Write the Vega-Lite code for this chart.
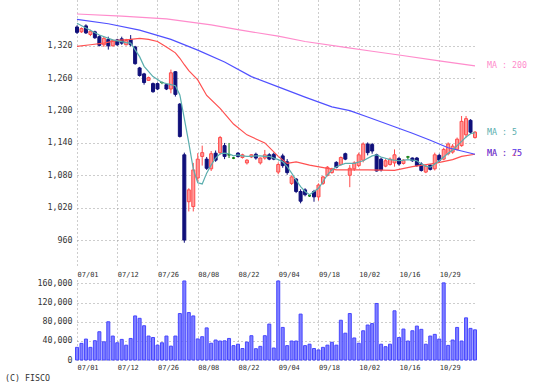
{
  "$schema": "https://vega.github.io/schema/vega-lite/v6.json",
  "padding": 0,
  "background": "white",
  "spacing": 3,
  "title": {"text": "(C) FISCO", "orient": "bottom", "anchor": "start", "frame": "bounds", "dx": 5, "offset": 4, "baseline": "top", "font": "DejaVu Sans Mono", "fontSize": 8.3, "fontWeight": "normal", "color": "#333333"},
  "config": {
    "view": {"stroke": null},
    "font": "DejaVu Sans Mono",
    "axis": {"labelFont": "DejaVu Sans Mono", "labelFontSize": 8.3, "labelColor": "#333333", "ticks": false, "domain": false, "gridColor": "#9a9a9a", "gridDash": [1, 3], "gridWidth": 1, "title": null},
    "axisX": {"labelAngle": 0}
  },
  "datasets": {
    "px": [
      {"d":"07/01","o":1355,"h":1358,"l":1342,"c":1345,"v":26400},
      {"d":"07/02","o":1346,"h":1354,"l":1344,"c":1352,"v":34700},
      {"d":"07/03","o":1357,"h":1360,"l":1342,"c":1344,"v":43700},
      {"d":"07/04","o":1341,"h":1350,"l":1338,"c":1347,"v":26400},
      {"d":"07/05","o":1346,"h":1348,"l":1333,"c":1335,"v":40300},
      {"d":"07/08","o":1337,"h":1340,"l":1319,"c":1321,"v":59000},
      {"d":"07/09","o":1322,"h":1337,"l":1318,"c":1334,"v":38000},
      {"d":"07/10","o":1332,"h":1337,"l":1313,"c":1320,"v":79800},
      {"d":"07/11","o":1320,"h":1332,"l":1319,"c":1330,"v":50000},
      {"d":"07/12","o":1331,"h":1333,"l":1320,"c":1322,"v":36000},
      {"d":"07/16","o":1333,"h":1337,"l":1322,"c":1325,"v":43000},
      {"d":"07/17","o":1322,"h":1333,"l":1321,"c":1330,"v":31000},
      {"d":"07/18","o":1332,"h":1340,"l":1319,"c":1322,"v":45000},
      {"d":"07/19","o":1318,"h":1320,"l":1285,"c":1287,"v":92000},
      {"d":"07/22","o":1279,"h":1281,"l":1263,"c":1265,"v":87000},
      {"d":"07/23","o":1268,"h":1270,"l":1248,"c":1252,"v":71500},
      {"d":"07/24","o":1256,"h":1263,"l":1255,"c":1261,"v":50000},
      {"d":"07/25","o":1250,"h":1252,"l":1233,"c":1235,"v":47000},
      {"d":"07/26","o":1250,"h":1252,"l":1238,"c":1240,"v":31000},
      {"d":"07/29","o":1252,"h":1254,"l":1249,"c":1252,"v":36000},
      {"d":"07/30","o":1248,"h":1249,"l":1238,"c":1240,"v":50000},
      {"d":"07/31","o":1240,"h":1276,"l":1232,"c":1270,"v":29000},
      {"d":"08/01","o":1272,"h":1273,"l":1226,"c":1230,"v":50000},
      {"d":"08/02","o":1212,"h":1214,"l":1150,"c":1152,"v":97000},
      {"d":"08/05","o":1118,"h":1122,"l":955,"c":960,"v":165000},
      {"d":"08/06","o":1031,"h":1056,"l":1013,"c":1053,"v":99000},
      {"d":"08/07","o":1022,"h":1103,"l":1013,"c":1090,"v":92000},
      {"d":"08/08","o":1075,"h":1121,"l":1068,"c":1110,"v":44000},
      {"d":"08/09","o":1115,"h":1135,"l":1098,"c":1122,"v":48600},
      {"d":"08/13","o":1110,"h":1114,"l":1090,"c":1093,"v":67000},
      {"d":"08/14","o":1092,"h":1125,"l":1088,"c":1120,"v":35000},
      {"d":"08/15","o":1121,"h":1126,"l":1105,"c":1108,"v":41700},
      {"d":"08/16","o":1122,"h":1153,"l":1118,"c":1150,"v":39600},
      {"d":"08/19","o":1135,"h":1140,"l":1110,"c":1115,"v":40000},
      {"d":"08/20","o":1118,"h":1140,"l":1112,"c":1118,"v":45000},
      {"d":"08/21","o":1112,"h":1114,"l":1110,"c":1112,"v":30000},
      {"d":"08/22","o":1121,"h":1123,"l":1113,"c":1115,"v":33000},
      {"d":"08/23","o":1113,"h":1120,"l":1111,"c":1118,"v":24000},
      {"d":"08/26","o":1103,"h":1110,"l":1100,"c":1108,"v":37500},
      {"d":"08/27","o":1114,"h":1119,"l":1112,"c":1118,"v":50700},
      {"d":"08/28","o":1119,"h":1122,"l":1109,"c":1112,"v":23600},
      {"d":"08/29","o":1103,"h":1113,"l":1100,"c":1112,"v":28500},
      {"d":"08/30","o":1112,"h":1127,"l":1109,"c":1118,"v":50700},
      {"d":"09/02","o":1118,"h":1121,"l":1108,"c":1110,"v":75000},
      {"d":"09/03","o":1119,"h":1122,"l":1108,"c":1110,"v":25000},
      {"d":"09/04","o":1086,"h":1104,"l":1082,"c":1100,"v":165000},
      {"d":"09/05","o":1116,"h":1120,"l":1094,"c":1098,"v":68000},
      {"d":"09/06","o":1105,"h":1110,"l":1081,"c":1085,"v":30000},
      {"d":"09/09","o":1065,"h":1080,"l":1062,"c":1077,"v":39600},
      {"d":"09/10","o":1073,"h":1075,"l":1047,"c":1050,"v":39600},
      {"d":"09/11","o":1050,"h":1054,"l":1028,"c":1032,"v":95800},
      {"d":"09/12","o":1053,"h":1056,"l":1041,"c":1044,"v":30000},
      {"d":"09/13","o":1042,"h":1044,"l":1040,"c":1042,"v":33000},
      {"d":"09/17","o":1050,"h":1053,"l":1031,"c":1040,"v":24000},
      {"d":"09/18","o":1040,"h":1065,"l":1033,"c":1062,"v":21000},
      {"d":"09/19","o":1065,"h":1079,"l":1062,"c":1077,"v":26400},
      {"d":"09/20","o":1080,"h":1097,"l":1078,"c":1095,"v":31000},
      {"d":"09/24","o":1085,"h":1094,"l":1083,"c":1092,"v":37000},
      {"d":"09/25","o":1104,"h":1106,"l":1093,"c":1095,"v":31000},
      {"d":"09/26","o":1100,"h":1115,"l":1098,"c":1113,"v":83000},
      {"d":"09/27","o":1120,"h":1122,"l":1108,"c":1110,"v":56000},
      {"d":"09/30","o":1080,"h":1099,"l":1058,"c":1093,"v":97000},
      {"d":"10/01","o":1092,"h":1106,"l":1088,"c":1103,"v":46000},
      {"d":"10/02","o":1098,"h":1122,"l":1095,"c":1118,"v":35000},
      {"d":"10/03","o":1108,"h":1141,"l":1104,"c":1138,"v":61000},
      {"d":"10/04","o":1138,"h":1141,"l":1117,"c":1122,"v":73000},
      {"d":"10/07","o":1137,"h":1140,"l":1120,"c":1125,"v":76000},
      {"d":"10/08","o":1118,"h":1120,"l":1087,"c":1088,"v":118000},
      {"d":"10/09","o":1110,"h":1113,"l":1087,"c":1090,"v":33000},
      {"d":"10/10","o":1097,"h":1110,"l":1095,"c":1107,"v":27800},
      {"d":"10/11","o":1100,"h":1113,"l":1098,"c":1110,"v":33000},
      {"d":"10/15","o":1103,"h":1128,"l":1096,"c":1118,"v":102700},
      {"d":"10/16","o":1111,"h":1114,"l":1098,"c":1101,"v":47000},
      {"d":"10/17","o":1102,"h":1110,"l":1100,"c":1108,"v":64600},
      {"d":"10/18","o":1114,"h":1116,"l":1110,"c":1114,"v":39600},
      {"d":"10/21","o":1112,"h":1113,"l":1105,"c":1107,"v":61000},
      {"d":"10/22","o":1112,"h":1114,"l":1096,"c":1098,"v":70800},
      {"d":"10/23","o":1101,"h":1104,"l":1087,"c":1089,"v":64000},
      {"d":"10/24","o":1086,"h":1099,"l":1084,"c":1097,"v":33000},
      {"d":"10/25","o":1099,"h":1100,"l":1089,"c":1091,"v":50000},
      {"d":"10/28","o":1092,"h":1122,"l":1089,"c":1118,"v":53500},
      {"d":"10/29","o":1117,"h":1120,"l":1105,"c":1108,"v":43700},
      {"d":"10/30","o":1110,"h":1131,"l":1108,"c":1128,"v":161000},
      {"d":"10/31","o":1120,"h":1141,"l":1117,"c":1138,"v":30500},
      {"d":"11/01","o":1123,"h":1138,"l":1120,"c":1134,"v":41700},
      {"d":"11/05","o":1128,"h":1150,"l":1126,"c":1147,"v":68000},
      {"d":"11/06","o":1135,"h":1190,"l":1133,"c":1180,"v":39600},
      {"d":"11/07","o":1155,"h":1190,"l":1150,"c":1185,"v":88000},
      {"d":"11/08","o":1182,"h":1184,"l":1157,"c":1160,"v":66000},
      {"d":"11/11","o":1150,"h":1162,"l":1148,"c":1160,"v":63000}
    ],
    "ma": [
      {"k":"200","d":"07/01","p":1379},{"k":"200","d":"07/16","p":1375},{"k":"200","d":"07/30","p":1370},{"k":"200","d":"08/14","p":1359},{"k":"200","d":"08/22","p":1350},{"k":"200","d":"09/04","p":1338},{"k":"200","d":"09/12","p":1328},{"k":"200","d":"09/27","p":1317},{"k":"200","d":"10/07","p":1310},{"k":"200","d":"10/16","p":1303},{"k":"200","d":"10/29","p":1292},{"k":"200","d":"11/11","p":1283},
      {"k":"25","d":"07/01","p":1319},{"k":"25","d":"07/04","p":1322},{"k":"25","d":"07/09","p":1325},{"k":"25","d":"07/12","p":1330},{"k":"25","d":"07/18","p":1332},{"k":"25","d":"07/22","p":1334},{"k":"25","d":"07/24","p":1332},{"k":"25","d":"07/26","p":1328},{"k":"25","d":"07/30","p":1318},{"k":"25","d":"08/01","p":1307},{"k":"25","d":"08/02","p":1297},{"k":"25","d":"08/05","p":1285},{"k":"25","d":"08/06","p":1274},{"k":"25","d":"08/08","p":1257},{"k":"25","d":"08/13","p":1228},{"k":"25","d":"08/16","p":1204},{"k":"25","d":"08/21","p":1175},{"k":"25","d":"08/26","p":1155},{"k":"25","d":"08/30","p":1140},{"k":"25","d":"09/04","p":1115},{"k":"25","d":"09/06","p":1102},{"k":"25","d":"09/10","p":1105},{"k":"25","d":"09/13","p":1099},{"k":"25","d":"09/20","p":1093},{"k":"25","d":"09/25","p":1090},{"k":"25","d":"10/04","p":1090},{"k":"25","d":"10/15","p":1089},{"k":"25","d":"10/21","p":1096},{"k":"25","d":"10/28","p":1102},{"k":"25","d":"11/01","p":1109},{"k":"25","d":"11/06","p":1115},{"k":"25","d":"11/11","p":1119},
      {"k":"75","d":"07/01","p":1369},{"k":"75","d":"07/10","p":1361},{"k":"75","d":"07/22","p":1349},{"k":"75","d":"07/31","p":1332},{"k":"75","d":"08/08","p":1312},{"k":"75","d":"08/19","p":1290},{"k":"75","d":"08/27","p":1263},{"k":"75","d":"09/04","p":1244},{"k":"75","d":"09/12","p":1225},{"k":"75","d":"09/24","p":1207},{"k":"75","d":"09/30","p":1200},{"k":"75","d":"10/04","p":1188},{"k":"75","d":"10/15","p":1170},{"k":"75","d":"10/21","p":1158},{"k":"75","d":"10/25","p":1145},{"k":"75","d":"10/31","p":1131},{"k":"75","d":"11/06","p":1125},{"k":"75","d":"11/11","p":1119},
      {"k":"5","d":"07/01","p":1362},{"k":"5","d":"07/03","p":1353},{"k":"5","d":"07/08","p":1340},{"k":"5","d":"07/11","p":1331},{"k":"5","d":"07/17","p":1326},{"k":"5","d":"07/18","p":1325},{"k":"5","d":"07/22","p":1300},{"k":"5","d":"07/23","p":1282},{"k":"5","d":"07/25","p":1263},{"k":"5","d":"07/29","p":1252},{"k":"5","d":"07/31","p":1248},{"k":"5","d":"08/01","p":1246},{"k":"5","d":"08/02","p":1229},{"k":"5","d":"08/05","p":1185},{"k":"5","d":"08/06","p":1140},{"k":"5","d":"08/07","p":1092},{"k":"5","d":"08/08","p":1066},{"k":"5","d":"08/09","p":1064},{"k":"5","d":"08/13","p":1084},{"k":"5","d":"08/14","p":1099},{"k":"5","d":"08/15","p":1112},{"k":"5","d":"08/16","p":1120},{"k":"5","d":"08/19","p":1121},{"k":"5","d":"08/20","p":1120},{"k":"5","d":"08/21","p":1116},{"k":"5","d":"08/22","p":1118},{"k":"5","d":"08/23","p":1116},{"k":"5","d":"08/26","p":1115},{"k":"5","d":"08/27","p":1115},{"k":"5","d":"08/28","p":1116},{"k":"5","d":"08/29","p":1116},{"k":"5","d":"08/30","p":1115},{"k":"5","d":"09/02","p":1115},{"k":"5","d":"09/03","p":1112},{"k":"5","d":"09/04","p":1109},{"k":"5","d":"09/05","p":1105},{"k":"5","d":"09/06","p":1096},{"k":"5","d":"09/09","p":1084},{"k":"5","d":"09/10","p":1071},{"k":"5","d":"09/11","p":1059},{"k":"5","d":"09/12","p":1050},{"k":"5","d":"09/13","p":1044},{"k":"5","d":"09/17","p":1050},{"k":"5","d":"09/18","p":1056},{"k":"5","d":"09/19","p":1068},{"k":"5","d":"09/20","p":1081},{"k":"5","d":"09/24","p":1090},{"k":"5","d":"09/25","p":1096},{"k":"5","d":"09/26","p":1099},{"k":"5","d":"09/27","p":1102},{"k":"5","d":"09/30","p":1102},{"k":"5","d":"10/01","p":1102},{"k":"5","d":"10/03","p":1107},{"k":"5","d":"10/07","p":1116},{"k":"5","d":"10/08","p":1118},{"k":"5","d":"10/09","p":1114},{"k":"5","d":"10/11","p":1109},{"k":"5","d":"10/16","p":1107},{"k":"5","d":"10/18","p":1109},{"k":"5","d":"10/22","p":1107},{"k":"5","d":"10/23","p":1101},{"k":"5","d":"10/24","p":1097},{"k":"5","d":"10/25","p":1095},{"k":"5","d":"10/28","p":1101},{"k":"5","d":"10/29","p":1107},{"k":"5","d":"10/30","p":1114},{"k":"5","d":"10/31","p":1121},{"k":"5","d":"11/01","p":1127},{"k":"5","d":"11/05","p":1135},{"k":"5","d":"11/06","p":1143},{"k":"5","d":"11/07","p":1151},{"k":"5","d":"11/08","p":1157},{"k":"5","d":"11/11","p":1159}
    ]
  },
  "vconcat": [
    {
      "width": 400,
      "height": 267,
      "data": {"name": "px"},
      "transform": [{"calculate": "datum.c > datum.o ? 'up' : (datum.c < datum.o ? 'dn' : 'eq')", "as": "dir"}],
      "encoding": {
        "x": {"field": "d", "type": "ordinal", "scale": {"type": "point", "padding": 0, "range": [0, 398]},
              "axis": {"values": ["07/01","07/12","07/26","08/08","08/22","09/04","09/18","10/02","10/16","10/29"], "labels": false, "grid": true, "title": null}}
      },
      "layer": [
        {
          "mark": {"type": "rule", "strokeWidth": 1},
          "encoding": {
            "y": {"field": "l", "type": "quantitative", "title": null, "scale": {"domain": [910, 1405], "zero": false, "nice": false},
                  "axis": {"values": [960,1020,1080,1140,1200,1260,1320], "format": ",d", "grid": true, "labelPadding": 5, "minExtent": 77, "maxExtent": 77}},
            "y2": {"field": "h"},
            "stroke": {"field": "dir", "type": "nominal", "legend": null, "scale": {"domain": ["up","dn","eq"], "range": ["#ff4a4a","#10107a","#0a7a0a"]}}
          }
        },
        {
          "mark": {"type": "bar", "width": 3, "strokeWidth": 1},
          "encoding": {
            "y": {"field": "o", "type": "quantitative", "title": null},
            "y2": {"field": "c"},
            "fill": {"field": "dir", "type": "nominal", "legend": null, "scale": {"domain": ["up","dn","eq"], "range": ["#ff9a9a","#10107a","#0a7a0a"]}},
            "stroke": {"field": "dir", "type": "nominal", "legend": null}
          }
        },
        {
          "data": {"name": "ma"},
          "mark": {"type": "line", "strokeWidth": 1.2},
          "encoding": {
            "y": {"field": "p", "type": "quantitative", "title": null},
            "color": {"field": "k", "type": "nominal", "legend": null, "scale": {"domain": ["200","75","25","5"], "range": ["#ff8ccc","#5050ff","#ff5050","#5aaeae"]}}
          }
        },
        {
          "data": {"name": "ma"},
          "transform": [{"filter": "datum.d == '11/11'"}, {"calculate": "'MA : ' + datum.k", "as": "t"}],
          "mark": {"type": "text", "align": "left", "baseline": "middle", "dx": 12, "font": "DejaVu Sans Mono", "fontSize": 8.3},
          "encoding": {
            "y": {"field": "p", "type": "quantitative", "title": null},
            "text": {"field": "t"},
            "color": {"field": "k", "type": "nominal", "legend": null}
          }
        }
      ]
    },
    {
      "width": 400,
      "height": 80,
      "data": {"name": "px"},
      "layer": [
        {
          "mark": {"type": "bar", "width": 3, "fill": "#8080ff", "stroke": "#4646ff", "strokeWidth": 1},
          "encoding": {
            "x": {"field": "d", "type": "ordinal", "scale": {"type": "point", "padding": 0, "range": [0, 398]},
                  "axis": {"orient": "bottom", "values": ["07/01","07/12","07/26","08/08","08/22","09/04","09/18","10/02","10/16","10/29"], "labelAlign": "left", "labelAngle": 0, "labelFontSize": 7, "labelPadding": 3, "grid": true, "title": null}},
            "y": {"field": "v", "type": "quantitative", "title": null, "scale": {"domain": [0, 167000], "nice": false},
                  "axis": {"values": [0,40000,80000,120000,160000], "format": ",d", "grid": true, "labelPadding": 5, "minExtent": 77, "maxExtent": 77}}
          }
        },
        {
          "mark": {"type": "rule", "opacity": 0},
          "encoding": {
            "x": {"field": "d", "type": "ordinal",
                  "axis": {"orient": "top", "values": ["07/01","07/12","07/26","08/08","08/22","09/04","09/18","10/02","10/16","10/29"], "labelAlign": "left", "labelAngle": 0, "labelFontSize": 7, "labelPadding": 3, "grid": false, "title": null, "minExtent": 10, "maxExtent": 10}}
          }
        }
      ],
      "resolve": {"axis": {"x": "independent"}}
    }
  ]
}
